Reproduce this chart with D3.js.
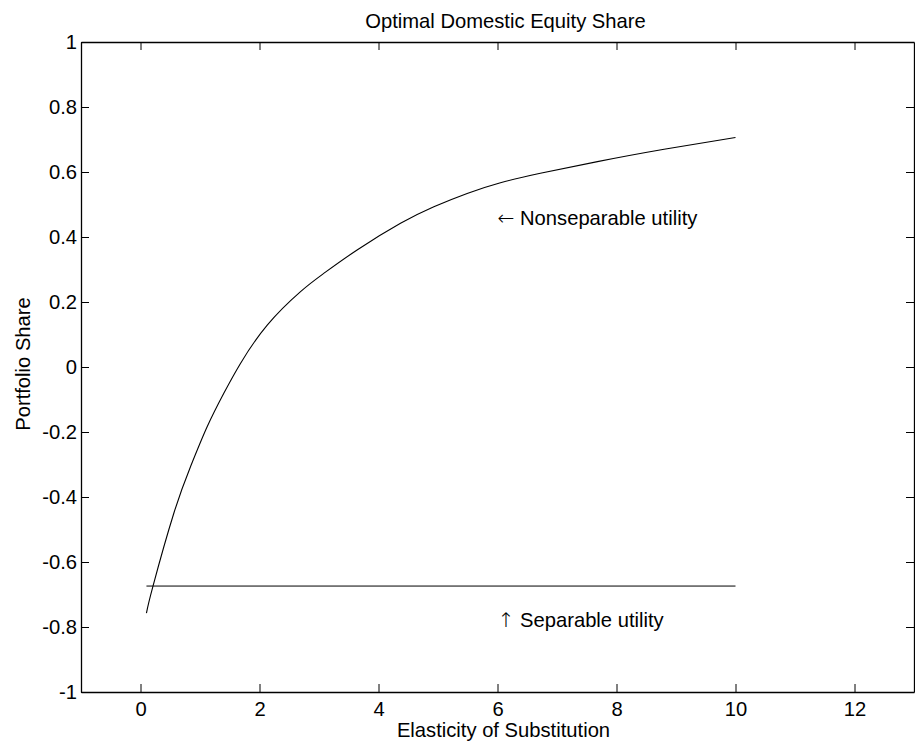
<!DOCTYPE html>
<html lang="en">
<head>
  <meta charset="UTF-8">
  <title>Optimal Domestic Equity Share</title>
  <script src="https://d3js.org/d3.v7.min.js"></script>
  <style>
    body { margin: 0; background: #fff; }
    text { font-family: "Liberation Sans", Arial, Helvetica, sans-serif; fill: #000; }
    .arrow { font-family: "DejaVu Sans", sans-serif; }
  </style>
</head>
<body>
  <div id="chart"></div>
  <script>
    // values
    var elasticity = [0.1, 0.21, 0.56, 0.84, 1.12, 1.4, 1.68, 2.13, 2.69, 3.08, 3.64, 4.37, 4.93, 5.49, 6.05, 6.72, 7.68, 8.8, 10];
    var nonseparable = [-0.757, -0.674, -0.45, -0.307, -0.184, -0.081, 0.011, 0.129, 0.232, 0.288, 0.36, 0.442, 0.493, 0.534, 0.567, 0.596, 0.632, 0.67, 0.706];
    var separableX = [0.1, 10];
    var separableY = [-0.674, -0.674];
    var xTicks = [0, 2, 4, 6, 8, 10, 12];
    var yTicks = [-1, -0.8, -0.6, -0.4, -0.2, 0, 0.2, 0.4, 0.6, 0.8, 1];

    var margin = { top: 42, right: 1, bottom: 59, left: 81 },
        width = 915 - margin.left - margin.right,
        height = 751 - margin.top - margin.bottom;
    var fontSize = 20.2;
    var tickLen = 8;

    var svg = d3.select("#chart")
      .append("svg")
      .attr("width", 915)
      .attr("height", 751)
      .append("g")
      .attr("transform", "translate(" + margin.left + "," + margin.top + ")");

    var x = d3.scaleLinear().domain([-1, 13]).range([0, width]);
    var y = d3.scaleLinear().domain([-1, 1]).range([height, 0]);

    // plain hyphen for negatives, like the original
    function fmt(d) { return String(+d.toFixed(1)); }

    // box + inward ticks on all four sides
    svg.append("g")
      .attr("transform", "translate(0," + height + ")")
      .call(d3.axisBottom(x).tickValues(xTicks).tickSizeInner(-tickLen).tickSizeOuter(0).tickPadding(10).tickFormat(fmt));
    svg.append("g")
      .call(d3.axisTop(x).tickValues(xTicks).tickSizeInner(-tickLen).tickSizeOuter(0).tickFormat(""));
    svg.append("g")
      .call(d3.axisLeft(y).tickValues(yTicks).tickSizeInner(-tickLen).tickSizeOuter(0).tickPadding(4).tickFormat(fmt));
    svg.append("g")
      .attr("transform", "translate(" + width + ",0)")
      .call(d3.axisRight(y).tickValues(yTicks).tickSizeInner(-tickLen).tickSizeOuter(0).tickFormat(""));

    svg.selectAll(".domain").attr("stroke", "#000").attr("stroke-width", 1.3);
    svg.selectAll(".tick line").attr("stroke", "#000").attr("stroke-width", 1);
    svg.selectAll(".tick text").style("font-size", fontSize + "px").attr("fill", "#000");

    var line = d3.line()
      .x(function (d) { return x(d[0]); })
      .y(function (d) { return y(d[1]); })
      .curve(d3.curveNatural);

    svg.append("path")
      .datum(d3.zip(elasticity, nonseparable))
      .attr("d", line)
      .attr("fill", "none")
      .attr("stroke", "#000")
      .attr("stroke-width", 1.1);

    svg.append("path")
      .datum(d3.zip(separableX, separableY))
      .attr("d", d3.line().x(function (d) { return x(d[0]); }).y(function (d) { return y(d[1]); }))
      .attr("fill", "none")
      .attr("stroke", "#000")
      .attr("stroke-width", 1);

    // annotations
    var t1 = svg.append("text")
      .attr("x", x(6))
      .attr("y", y(0.455))
      .attr("dy", "0.3em")
      .style("font-size", fontSize + "px");
    t1.append("tspan").attr("class", "arrow").style("font-weight", 200).text("\u2190");
    t1.append("tspan").text(" Nonseparable utility");

    var t2 = svg.append("text")
      .attr("x", x(6))
      .attr("y", y(-0.78))
      .attr("dy", "0.3em")
      .style("font-size", fontSize + "px");
    t2.append("tspan").attr("class", "arrow").style("font-weight", 200).text("\u2191");
    t2.append("tspan").text(" Separable utility");

    // title and axis labels
    svg.append("text")
      .attr("x", width / 2 + 8)
      .attr("y", -14)
      .attr("text-anchor", "middle")
      .style("font-size", fontSize + "px")
      .text("Optimal Domestic Equity Share");

    svg.append("text")
      .attr("x", width / 2 + 6)
      .attr("y", height + 45)
      .attr("text-anchor", "middle")
      .style("font-size", fontSize + "px")
      .text("Elasticity of Substitution");

    svg.append("text")
      .attr("transform", "translate(" + (29.5 - margin.left) + "," + (364 - margin.top) + ") rotate(-90)")
      .attr("text-anchor", "middle")
      .style("font-size", fontSize + "px")
      .text("Portfolio Share");
  </script>
</body>
</html>
